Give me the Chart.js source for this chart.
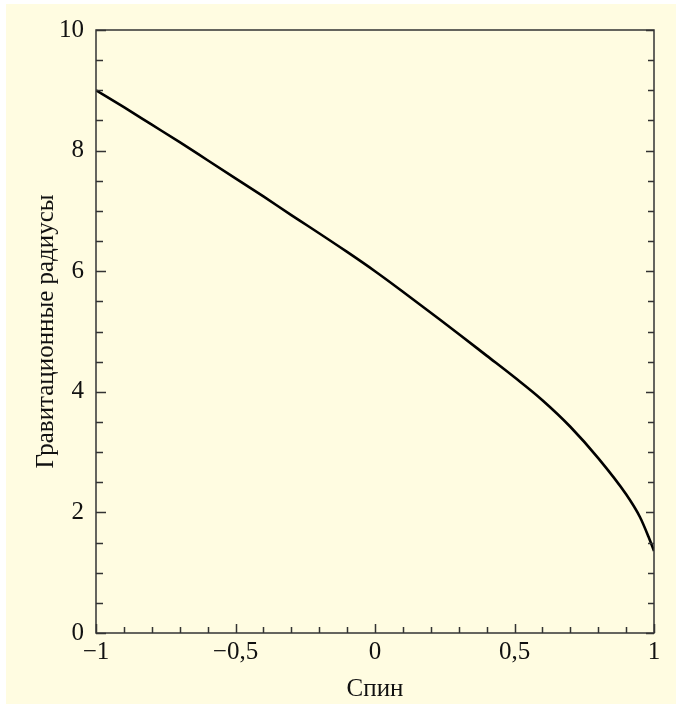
<!DOCTYPE html>
<html>
<head>
<meta charset="utf-8">
<script src="https://cdn.jsdelivr.net/npm/chart.js@4.4.0/dist/chart.umd.min.js"></script>
<style>
  html, body { margin: 0; padding: 0; background: #ffffff; }
  #wrap { position: relative; width: 676px; height: 704px; }
</style>
</head>
<body>
<div id="wrap"><canvas id="iscoChart" width="676" height="704"></canvas></div>
<script>
// Spin values and radius (in gravitational radii)
const spin = [-1, -0.9, -0.8, -0.7, -0.6, -0.5, -0.4, -0.3, -0.24, -0.1, 0,
              0.1, 0.2, 0.3, 0.4, 0.5, 0.6, 0.7, 0.8, 0.9, 0.95, 0.98, 1];
const radius = [9.0, 8.72, 8.43, 8.14, 7.84, 7.54, 7.24, 6.93, 6.75, 6.32, 6.0,
                5.66, 5.31, 4.96, 4.6, 4.24, 3.86, 3.42, 2.9, 2.3, 1.92, 1.6, 1.36];

// Tick labels
const xTicks = [-1, -0.5, 0, 0.5, 1];
const yTicks = [0, 2, 4, 6, 8, 10];
const xMinorStep = 0.1;
const yMinorStep = 0.5;

const points = spin.map((s, i) => ({ x: s, y: radius[i] }));

function fmt(v) {
  let s = String(Math.abs(v)).replace('.', ',');
  return v < 0 ? '\u2212' + s : s;
}

const fontFamily = '"Liberation Serif", "Times New Roman", serif';

// cream background box
const backgroundBox = {
  id: 'backgroundBox',
  beforeDraw(chart) {
    const ctx = chart.ctx;
    ctx.save();
    ctx.fillStyle = '#fffce1';
    ctx.fillRect(6, 4, 670, 700);
    ctx.restore();
  }
};

// frame and inward tick marks
const frameTicks = {
  id: 'frameTicks',
  afterDraw(chart) {
    const ctx = chart.ctx;
    const a = chart.chartArea;
    const xs = chart.scales.x;
    const ys = chart.scales.y;
    ctx.save();
    ctx.strokeStyle = '#333333';
    ctx.lineWidth = 1.5;
    ctx.strokeRect(a.left, a.top, a.right - a.left, a.bottom - a.top);

    ctx.beginPath();
    // x ticks on bottom
    for (let i = 0; i <= 20; i++) {
      const v = -1 + i * xMinorStep;
      const major = i % 5 === 0;
      const px = Math.round(xs.getPixelForValue(v)) + 0.5;
      const len = major ? 9 : 6;
      ctx.moveTo(px, a.bottom);
      ctx.lineTo(px, a.bottom - len);
    }
    // y ticks on left and right
    for (let i = 0; i <= 20; i++) {
      const v = i * yMinorStep;
      const major = i % 4 === 0;
      const py = Math.round(ys.getPixelForValue(v)) + 0.5;
      const len = major ? 10 : 7;
      ctx.moveTo(a.left, py);
      ctx.lineTo(a.left + len, py);
      ctx.moveTo(a.right, py);
      ctx.lineTo(a.right - (major ? 8 : 6), py);
    }
    ctx.stroke();
    ctx.restore();
  }
};

const ctx = document.getElementById('iscoChart').getContext('2d');
new Chart(ctx, {
  type: 'scatter',
  data: {
    datasets: [{
      data: points,
      showLine: true,
      borderColor: '#000000',
      borderWidth: 2.6,
      pointRadius: 0,
      cubicInterpolationMode: 'monotone',
      fill: false
    }]
  },
  options: {
    responsive: false,
    animation: false,
    layout: {
      padding: { left: 31, right: 22, top: 30, bottom: 0 }
    },
    scales: {
      x: {
        type: 'linear',
        min: -1,
        max: 1,
        afterBuildTicks: (axis) => { axis.ticks = xTicks.map(v => ({ value: v })); },
        ticks: {
          callback: (v) => fmt(v),
          color: '#111111',
          padding: 4,
          maxRotation: 0,
          font: { family: fontFamily, size: 25 }
        },
        grid: { display: false, drawTicks: false },
        border: { display: false },
        title: {
          display: true,
          text: 'Спин',
          color: '#111111',
          padding: { top: 3, bottom: 0 },
          font: { family: fontFamily, size: 25 }
        }
      },
      y: {
        type: 'linear',
        min: 0,
        max: 10,
        afterBuildTicks: (axis) => { axis.ticks = yTicks.map(v => ({ value: v })); },
        ticks: {
          callback: (v) => fmt(v),
          color: '#111111',
          padding: 12,
          font: { family: fontFamily, size: 25 }
        },
        grid: { display: false, drawTicks: false },
        border: { display: false },
        title: {
          display: true,
          text: 'Гравитационные радиусы',
          color: '#111111',
          padding: { top: 0, bottom: -14 },
          font: { family: fontFamily, size: 25 }
        }
      }
    },
    plugins: {
      legend: { display: false },
      tooltip: { enabled: false }
    }
  },
  plugins: [backgroundBox, frameTicks]
});
</script>
</body>
</html>
